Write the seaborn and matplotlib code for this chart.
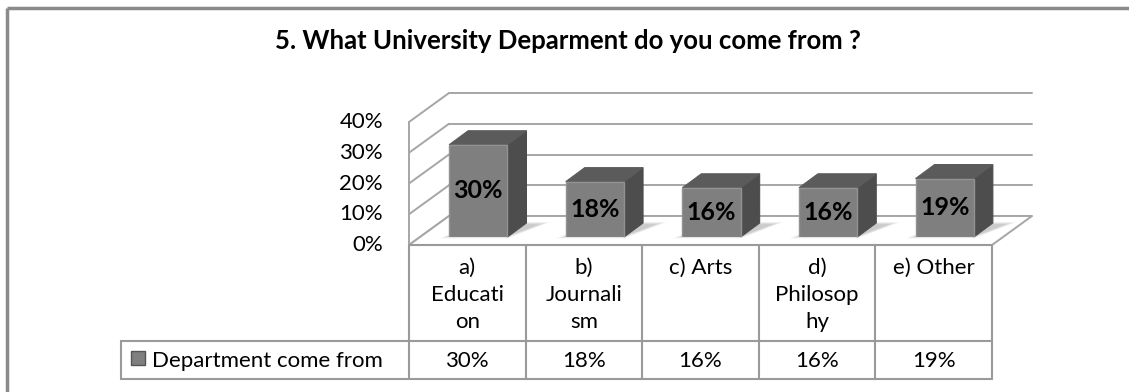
import numpy as np
import matplotlib
matplotlib.use("Agg")
import matplotlib.pyplot as plt
from matplotlib.patches import Polygon, Rectangle
import seaborn as sns

# ---- data ----
categories = ["a) Education", "b) Journalism", "c) Arts", "d) Philosophy", "e) Other"]
table_labels = ["a)\nEducati\non", "b)\nJournali\nsm", "c) Arts", "d)\nPhilosop\nhy", "e) Other"]
values = [0.30, 0.18, 0.16, 0.16, 0.19]
series_name = "Department come from"
yticks = [0.0, 0.1, 0.2, 0.3, 0.4]
title = "5. What University Deparment do you come from ?"

W, H = 1129, 392
sns.set_style("white")
plt.rcParams["font.family"] = ["Lato", "DejaVu Sans"]

fig = plt.figure(figsize=(W / 100, H / 100), dpi=100)

# background layer in pixel units (origin top-left)
deco = fig.add_axes([0, 0, 1, 1])
deco.set_xlim(0, W)
deco.set_ylim(H, 0)
deco.axis("off")
deco.set_zorder(1)

# bar layer: front plane of the columns
ax = fig.add_axes([420 / W, (H - 237) / H, 583 / W, 123 / H])
ax.set_zorder(2)
ax.patch.set_alpha(0)

sns.barplot(x=categories, y=values, ax=ax, width=0.5, color="#7f7f7f",
            saturation=1, edgecolor="#929292", linewidth=1.0)
ax.set_xlim(-0.5, len(categories) - 0.5)
ax.set_ylim(yticks[0], yticks[-1])
ax.axis("off")


def px(x, y):
    dx, dy = ax.transData.transform((x, y))
    return np.array([dx, H - dy])


bar_depth = np.array([19.0, -14.0])      # front face -> back face of a column
to_floor_front = np.array([-11.0, 8.0])  # column front plane -> floor front edge
wall_depth = np.array([40.0, -29.0])     # floor front edge -> back wall

grid_col = "#a6a6a6"
n = len(categories)
fs = 16

# back wall gridlines, left side wall and floor
for v in yticks:
    f_left = px(-0.5, v) + to_floor_front
    b_left = f_left + wall_depth
    b_right = px(n - 0.5, v) + to_floor_front + wall_depth
    deco.plot([f_left[0], b_left[0]], [f_left[1], b_left[1]], color=grid_col, lw=1.4, zorder=2)
    deco.plot([b_left[0], b_right[0]], [b_left[1], b_right[1]], color=grid_col, lw=1.4, zorder=2)
fl0 = px(-0.5, yticks[0]) + to_floor_front
fl1 = px(-0.5, yticks[-1]) + to_floor_front
deco.plot([fl0[0], fl1[0]], [fl0[1], fl1[1]], color=grid_col, lw=1.4, zorder=2)
fr0 = px(n - 0.5, 0) + to_floor_front
deco.add_patch(Polygon([fl0, fr0, fr0 + wall_depth, fl0 + wall_depth], closed=True,
                       facecolor="white", edgecolor=grid_col, lw=1.4, zorder=2))

# soft floor shadows, side and top faces of each column
for p in ax.patches:
    x0, w, h = p.get_x(), p.get_width(), p.get_height()
    bl, br, tr, tl = px(x0, 0), px(x0 + w, 0), px(x0 + w, h), px(x0, h)
    for k in range(6):
        g = 2.2 * k
        shadow = [bl + np.array([-10 + g, 1.5 - g * 0.2]),
                  br + np.array([0, 1.5 - g * 0.2]),
                  br + bar_depth + np.array([24 - g, -1 + g * 0.2]),
                  bl + bar_depth + np.array([10, -1 + g * 0.2])]
        deco.add_patch(Polygon(shadow, closed=True, facecolor="#000000",
                               alpha=0.035, lw=0, zorder=3))
    deco.add_patch(Polygon([br, tr, tr + bar_depth, br + bar_depth], closed=True,
                           facecolor="#4d4d4d", edgecolor="#4d4d4d", lw=0.8, zorder=4))
    deco.add_patch(Polygon([tl, tr, tr + bar_depth, tl + bar_depth], closed=True,
                           facecolor="#5b5b5b", edgecolor="#5b5b5b", lw=0.8, zorder=4))

# value labels on the column fronts
for i, v in enumerate(values):
    ax.text(i, v / 2, f"{v:.0%}", ha="center", va="center", fontsize=18,
            fontweight="bold", color="black", zorder=5)

# y axis labels at the floor-front plane
for v in yticks:
    pt = px(-0.5, v) + to_floor_front
    deco.text(383, pt[1], f"{v:.0%}", ha="right", va="center", fontsize=fs,
              color="black", zorder=5)

# data table below the floor
tab_top = fl0[1]
row_split = 341
tab_bot = 379
legend_left = 121
edges = [px(i - 0.5, 0)[0] + to_floor_front[0] for i in range(n + 1)]
tc = "#9a9a9a"
deco.plot([edges[0], edges[-1]], [tab_top, tab_top], color=tc, lw=1.5, zorder=6)
deco.plot([legend_left, edges[-1]], [row_split, row_split], color=tc, lw=1.5, zorder=6)
deco.plot([legend_left, edges[-1]], [tab_bot, tab_bot], color=tc, lw=1.5, zorder=6)
deco.plot([legend_left, legend_left], [row_split, tab_bot], color=tc, lw=1.5, zorder=6)
for e in edges:
    deco.plot([e, e], [tab_top, tab_bot], color=tc, lw=1.5, zorder=6)

for i in range(n):
    cx = (edges[i] + edges[i + 1]) / 2
    deco.text(cx, tab_top + 13, table_labels[i], ha="center", va="top", fontsize=fs,
              linespacing=1.45, color="black", zorder=7)
    deco.text(cx, (row_split + tab_bot) / 2 + 1, f"{values[i]:.0%}", ha="center",
              va="center", fontsize=fs, color="black", zorder=7)

deco.add_patch(Rectangle((131, 351), 14, 14, facecolor="#7f7f7f", edgecolor="#555555",
                         lw=1.0, zorder=7))
deco.text(152, (row_split + tab_bot) / 2 + 1, series_name, ha="left", va="center",
          fontsize=fs, color="black", zorder=7)

# title
deco.text(568, 41, title, ha="center", va="center", fontsize=18.5, fontweight="bold",
          color="black", zorder=7)

# chart area border
deco.plot([7, W], [8, 8], color="#8a8a8a", lw=2.5, zorder=8, solid_capstyle="butt")
deco.plot([7, 7], [8, H], color="#8a8a8a", lw=2.5, zorder=8, solid_capstyle="butt")

fig.savefig("out.png", dpi=100, facecolor="white")
